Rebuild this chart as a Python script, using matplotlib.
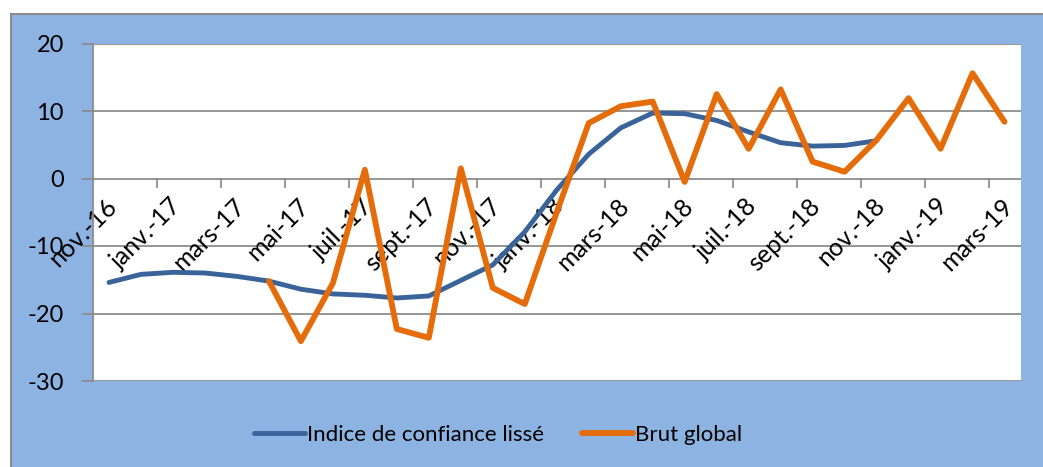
import numpy as np
import matplotlib
matplotlib.use("Agg")
import matplotlib.pyplot as plt
from matplotlib.patches import Rectangle

months = ['nov.-16', 'déc.-16', 'janv.-17', 'févr.-17', 'mars-17', 'avr.-17',
          'mai-17', 'juin-17', 'juil.-17', 'août-17', 'sept.-17', 'oct.-17',
          'nov.-17', 'déc.-17', 'janv.-18', 'févr.-18', 'mars-18', 'avr.-18',
          'mai-18', 'juin-18', 'juil.-18', 'août-18', 'sept.-18', 'oct.-18',
          'nov.-18', 'déc.-18', 'janv.-19', 'févr.-19', 'mars-19']

nan = np.nan
# Indice de confiance lissé (nov.-16 .. nov.-18)
lisse = [-15.4, -14.2, -13.9, -14.0, -14.5, -15.2, -16.4, -17.1, -17.3, -17.7,
         -17.4, -15.1, -12.8, -7.9, -1.7, 3.6, 7.5, 9.7, 9.6, 8.6,
         6.9, 5.3, 4.8, 4.9, 5.6, nan, nan, nan, nan]
# Brut global (avr.-17 .. mars-19)
brut = [nan, nan, nan, nan, nan, -15.2, -24.1, -15.5, 1.3, -22.3,
        -23.6, 1.5, -16.2, -18.6, -5.0, 8.2, 10.7, 11.4, -0.5, 12.5,
        4.4, 13.2, 2.5, 1.0, 5.7, 11.9, 4.4, 15.6, 8.4]

plt.rcParams['font.family'] = ['Lato', 'DejaVu Sans']

W, H = 1043, 467
fig = plt.figure(figsize=(W / 100, H / 100), dpi=100)
fig.patch.set_facecolor('white')

# light blue chart area with grey border
fig.add_artist(Rectangle((11 / W, -0.1), 1.2, 1.1 - 14 / H,
                         transform=fig.transFigure, facecolor='#8DB3E2',
                         edgecolor='#8C8C8C', linewidth=1.5, zorder=-5))

ax = fig.add_axes([93 / W, 1 - 381 / H, (1020.5 - 93) / W, (381 - 43.5) / H])
ax.set_facecolor('white')

x = np.arange(len(months))
ax.plot(x, lisse, color='#3A6399', linewidth=3.5, solid_joinstyle='round',
        solid_capstyle='round', label='Indice de confiance lissé', zorder=3)
ax.plot(x, brut, color='#E46C0A', linewidth=4.2, solid_joinstyle='round',
        solid_capstyle='round', label='Brut global', zorder=4)

ax.set_xlim(-0.5, len(months) - 0.5)
ax.set_ylim(-30, 20)
ax.set_yticks([-30, -20, -10, 0, 10, 20])
ax.set_yticklabels(['-30', '-20', '-10', '0', '10', '20'])

for y in [-30, -20, -10, 10, 20]:
    ax.axhline(y, color='#8C8C8C', linewidth=1.3, zorder=1)
# category axis crossing at 0
ax.axhline(0, color='#8C8C8C', linewidth=1.3, zorder=1)
for b in np.arange(1.5, len(months) - 1, 2):
    ax.plot([b, b], [0, -1.2], color='#8C8C8C', linewidth=1.3, zorder=1,
            clip_on=False)
for i in range(0, len(months), 2):
    ax.text(i - 0.12, -2.3, months[i], rotation=45, ha='right', va='top',
            rotation_mode='anchor', fontsize=18, color='black', zorder=2)

for s in ['top', 'right', 'bottom']:
    ax.spines[s].set_visible(False)
ax.spines['left'].set_color('#8C8C8C')
ax.spines['left'].set_linewidth(1.3)
ax.tick_params(axis='y', length=8, width=1.3, color='#8C8C8C',
               labelsize=17, pad=13)
ax.tick_params(axis='x', bottom=False, labelbottom=False)

fig.legend(loc='center', bbox_to_anchor=(498 / W, 1 - 435 / H), ncol=2,
           frameon=False, fontsize=16, handlelength=2.3, handletextpad=0.1,
           columnspacing=1.7)

fig.savefig('out.png', dpi=100)
